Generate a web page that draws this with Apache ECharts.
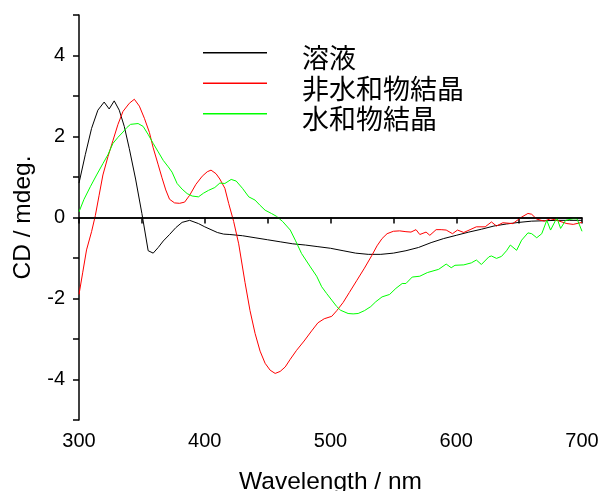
<!DOCTYPE html>
<html>
<head>
<meta charset="utf-8">
<script src="https://cdn.jsdelivr.net/npm/echarts@6/dist/echarts.min.js"></script>
<style>
  html, body { margin: 0; padding: 0; background: #fff; }
  #chart { width: 600px; height: 491px; }
</style>
</head>
<body>
<div id="chart"></div>
<script>
// 溶液
const solutionX = [300, 305, 310, 315, 320, 324, 328, 332, 336, 340, 345, 350, 355, 359, 363, 367, 372, 377, 382, 388, 395, 400, 410, 415, 420, 430, 440, 450, 460, 470, 480, 490, 500, 510, 520, 530, 540, 550, 560, 570, 580, 590, 600, 610, 620, 630, 640, 650, 660, 670, 680, 690, 700]
const solutionY = [0.85, 1.55, 2.2, 2.65, 2.85, 2.68, 2.88, 2.65, 2.25, 1.7, 0.95, 0.1, -0.82, -0.88, -0.74, -0.58, -0.42, -0.25, -0.12, -0.07, -0.15, -0.23, -0.37, -0.41, -0.42, -0.45, -0.5, -0.55, -0.6, -0.65, -0.68, -0.72, -0.76, -0.82, -0.88, -0.91, -0.91, -0.88, -0.82, -0.74, -0.62, -0.52, -0.44, -0.36, -0.29, -0.21, -0.16, -0.12, -0.09, -0.08, -0.07, -0.07, -0.07]

// 非水和物結晶
const anhydrateX = [300, 303, 306, 310, 313, 316, 319, 323, 327, 331, 335, 340, 344, 348, 352, 356, 359, 363, 366, 369, 372, 376, 380, 384, 388, 393, 398, 402, 405, 409, 412, 416, 419, 423, 427, 432, 436, 440, 444, 448, 452, 456, 460, 464, 468, 473, 479, 485, 490, 495, 501, 505, 510, 515, 521, 527, 533, 537, 541, 545, 550, 555, 560, 564, 568, 571, 576, 579, 584, 588, 592, 597, 601, 606, 611, 616, 623, 628, 632, 637, 645, 652, 657, 660, 664, 670, 675, 680, 688, 693, 700]
const anhydrateY = [-1.9, -1.35, -0.8, -0.35, 0.05, 0.55, 1.05, 1.5, 1.9, 2.3, 2.62, 2.82, 2.92, 2.75, 2.45, 2.1, 1.72, 1.3, 0.98, 0.68, 0.45, 0.36, 0.35, 0.38, 0.55, 0.82, 1.02, 1.13, 1.17, 1.08, 0.95, 0.72, 0.35, -0.1, -0.65, -1.6, -2.3, -2.86, -3.3, -3.6, -3.77, -3.85, -3.8, -3.69, -3.5, -3.28, -3.05, -2.8, -2.6, -2.5, -2.44, -2.3, -2.1, -1.85, -1.55, -1.25, -0.93, -0.7, -0.52, -0.4, -0.34, -0.33, -0.35, -0.36, -0.3, -0.42, -0.36, -0.44, -0.3, -0.3, -0.31, -0.4, -0.31, -0.37, -0.3, -0.23, -0.23, -0.11, -0.21, -0.13, -0.15, 0.01, 0.1, 0.08, -0.04, -0.09, -0.03, -0.07, -0.15, -0.17, -0.12]

// 水和物結晶
const hydrateX = [300, 304, 309, 314, 319, 323, 327, 331, 335, 338, 341, 347, 351, 355, 359, 363, 367, 371, 374, 378, 382, 386, 390, 395, 399, 403, 408, 412, 416, 421, 425, 430, 435, 440, 444, 448, 453, 457, 462, 468, 472, 477, 484, 489, 493, 497, 501, 505, 508, 514, 518, 522, 527, 532, 536, 541, 547, 552, 557, 560, 565, 571, 577, 586, 592, 596, 599, 606, 612, 616, 620, 626, 628, 632, 636, 640, 643, 648, 652, 657, 660, 664, 668, 672, 675, 680, 683, 687, 693, 696, 700]
const hydrateY = [0.14, 0.45, 0.76, 1.05, 1.33, 1.55, 1.83, 1.98, 2.11, 2.22, 2.3, 2.32, 2.25, 2.05, 1.83, 1.62, 1.41, 1.25, 1.12, 0.84, 0.7, 0.59, 0.53, 0.51, 0.6, 0.67, 0.74, 0.85, 0.84, 0.94, 0.9, 0.72, 0.51, 0.43, 0.3, 0.18, 0.1, 0.03, -0.1, -0.31, -0.56, -0.89, -1.22, -1.45, -1.71, -1.88, -2.04, -2.2, -2.29, -2.37, -2.38, -2.37, -2.3, -2.2, -2.08, -1.96, -1.9, -1.75, -1.63, -1.63, -1.47, -1.45, -1.36, -1.28, -1.15, -1.24, -1.18, -1.17, -1.12, -1.05, -1.16, -0.97, -0.95, -1.01, -0.96, -0.82, -0.68, -0.81, -0.56, -0.38, -0.4, -0.5, -0.4, -0.07, -0.31, -0.01, -0.27, -0.07, -0.03, -0.03, -0.34]

const seriesNames = ['溶液', '非水和物結晶', '水和物結晶']
const xTickLabels = [300, 400, 500, 600, 700]
const yTickLabels = [-4, -2, 0, 2, 4]

const pairs = (xs, ys) => xs.map((x, i) => [x, ys[i]])

const latin = '"Liberation Sans", Arial, sans-serif'
const cjk = '"Noto Sans CJK JP", "Noto Sans CJK SC", sans-serif'

const chart = echarts.init(document.getElementById('chart'))

const axisCommon = {
  axisLine: { show: true, lineStyle: { color: '#000', width: 1.5 } },
  axisTick: { show: true, inside: false, length: 6, lineStyle: { color: '#000', width: 1.5 } },
  splitLine: { show: false },
  nameTextStyle: { color: '#000', fontFamily: latin, fontSize: 24.5 }
}

chart.setOption({
  animation: false,
  backgroundColor: '#fff',
  grid: { left: 79, right: 18, top: 15, bottom: 71, outerBoundsMode: 'none' },
  legend: {
    orient: 'vertical',
    left: 198,
    top: 38,
    // line sits a little above the middle of its text, as in the original
    icon: 'path://M0,0 H64 V1.5 H0 Z M0,12 L0.01,12 Z',
    itemWidth: 64,
    itemHeight: 12,
    itemGap: 0.5,
    itemStyle: { borderWidth: 0 },
    data: seriesNames,
    textStyle: {
      color: '#000',
      fontFamily: cjk,
      fontSize: 27,
      lineHeight: 30,
      padding: [0, 0, 0, 30]
    }
  },
  xAxis: {
    ...axisCommon,
    type: 'value',
    min: 300,
    max: 700,
    interval: 50,
    name: 'Wavelength / nm',
    nameLocation: 'middle',
    nameGap: 50,
    axisLabel: {
      color: '#000',
      fontFamily: latin,
      fontSize: 20,
      margin: 11,
      formatter: v => (xTickLabels.includes(v) ? String(v) : '')
    }
  },
  yAxis: {
    ...axisCommon,
    type: 'value',
    min: -5,
    max: 5,
    interval: 1,
    name: 'CD / mdeg.',
    nameLocation: 'middle',
    nameGap: 43,
    axisLabel: {
      color: '#000',
      fontFamily: latin,
      fontSize: 20,
      margin: 14,
      formatter: v => (yTickLabels.includes(v) ? String(v) : '')
    }
  },
  series: [
    {
      name: seriesNames[0],
      type: 'line',
      data: pairs(solutionX, solutionY),
      symbol: 'none',
      lineStyle: { color: '#000', width: 1 },
      itemStyle: { color: '#000' },
      z: 3,
      markLine: {
        silent: true,
        symbol: 'none',
        label: { show: false },
        lineStyle: { color: '#000', width: 1.5, type: 'solid' },
        data: [{ yAxis: 0 }]
      }
    },
    {
      name: seriesNames[1],
      type: 'line',
      data: pairs(anhydrateX, anhydrateY),
      symbol: 'none',
      lineStyle: { color: '#ff0000', width: 1 },
      itemStyle: { color: '#ff0000' }
    },
    {
      name: seriesNames[2],
      type: 'line',
      data: pairs(hydrateX, hydrateY),
      symbol: 'none',
      lineStyle: { color: '#00ff00', width: 1 },
      itemStyle: { color: '#00ff00' }
    }
  ]
})

window.addEventListener('resize', () => chart.resize())
</script>
</body>
</html>
